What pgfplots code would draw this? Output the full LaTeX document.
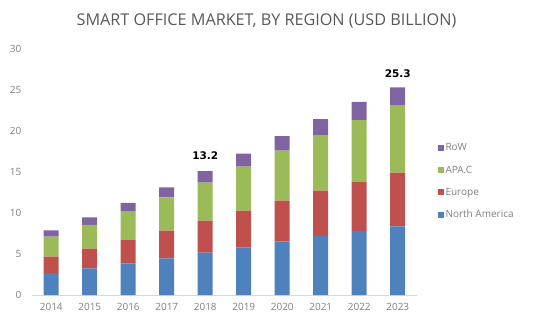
\documentclass[border=0pt]{standalone}
\usepackage{pgfplots}
\pgfplotsset{compat=1.18}
\usepackage{fontspec}
\setmainfont{Open Sans}
\newfontfamily\annfont{DejaVu Sans}
\definecolor{cNA}{HTML}{4F81BD}
\definecolor{cEU}{HTML}{C0504D}
\definecolor{cAP}{HTML}{9BBB59}
\definecolor{cRW}{HTML}{8064A2}
\definecolor{txt}{HTML}{7F7F7F}
\definecolor{ttl}{HTML}{595959}
\definecolor{axl}{HTML}{D9D9D9}
\begin{document}
\begin{tikzpicture}[x=1pt,y=1pt]
\path[use as bounding box] (0,0) rectangle (544,327);
\node[text=ttl,font=\fontsize{16.2}{18}\selectfont] at (266.5,306) {SMART OFFICE MARKET, BY REGION (USD BILLION)};
\begin{axis}[
  at={(32pt,32pt)}, anchor=south west,
  scale only axis, width=385pt, height=246pt,
  xmin=-0.5, xmax=9.5, ymin=0, ymax=30,
  ybar stacked, bar width=15pt,
  axis x line=bottom, axis y line=left,
  x axis line style={draw=axl,-},
  y axis line style={draw=none},
  xtick={0,...,9},
  xticklabels={2014,2015,2016,2017,2018,2019,2020,2021,2022,2023},
  xtick style={draw=none},
  extra x ticks={-0.5,0.5,...,9.5},
  extra x tick labels={},
  extra x tick style={tick style={draw=axl}, major tick length=4pt, tick align=outside},
  ytick={0,5,...,30},
  ytick style={draw=none},
  yticklabel style={xshift=-5pt},
  xticklabel style={yshift=-3pt},
  tick label style={font=\fontsize{10}{12}\selectfont, text=txt},
  /pgf/number format/assume math mode=true,
  legend style={at={(1.045,0.632)}, anchor=north west, draw=none, fill=none,
    font=\fontsize{10}{12}\selectfont, text=txt, row sep=9.5pt,
    /tikz/every even column/.append style={column sep=2pt}},
  legend cell align=left,
  legend image code/.code={\fill[#1] (0pt,-3pt) rectangle (6pt,3pt);},
  reverse legend,
  clip=false,
]
\addplot[fill=cNA,draw=none] coordinates {(0,2.68)(1,3.25)(2,3.86)(3,4.47)(4,5.16)(5,5.81)(6,6.54)(7,7.20)(8,7.80)(9,8.37)};
\addplot[fill=cEU,draw=none] coordinates {(0,1.99)(1,2.40)(2,2.89)(3,3.38)(4,3.91)(5,4.47)(6,4.96)(7,5.52)(8,6.02)(9,6.55)};
\addplot[fill=cAP,draw=none] coordinates {(0,2.44)(1,2.89)(2,3.41)(3,4.06)(4,4.63)(5,5.37)(6,6.10)(7,6.79)(8,7.52)(9,8.17)};
\addplot[fill=cRW,draw=none] coordinates {(0,0.78)(1,0.93)(2,1.06)(3,1.22)(4,1.42)(5,1.59)(6,1.79)(7,1.95)(8,2.20)(9,2.24)};
\legend{North America,Europe,APA.C,RoW}
\node[font=\annfont\bfseries\fontsize{10.5}{12}\selectfont] at (axis cs:4,16.95) {13.2};
\node[font=\annfont\bfseries\fontsize{10.5}{12}\selectfont] at (axis cs:9,27.0) {25.3};
\end{axis}
\end{tikzpicture}
\end{document}
